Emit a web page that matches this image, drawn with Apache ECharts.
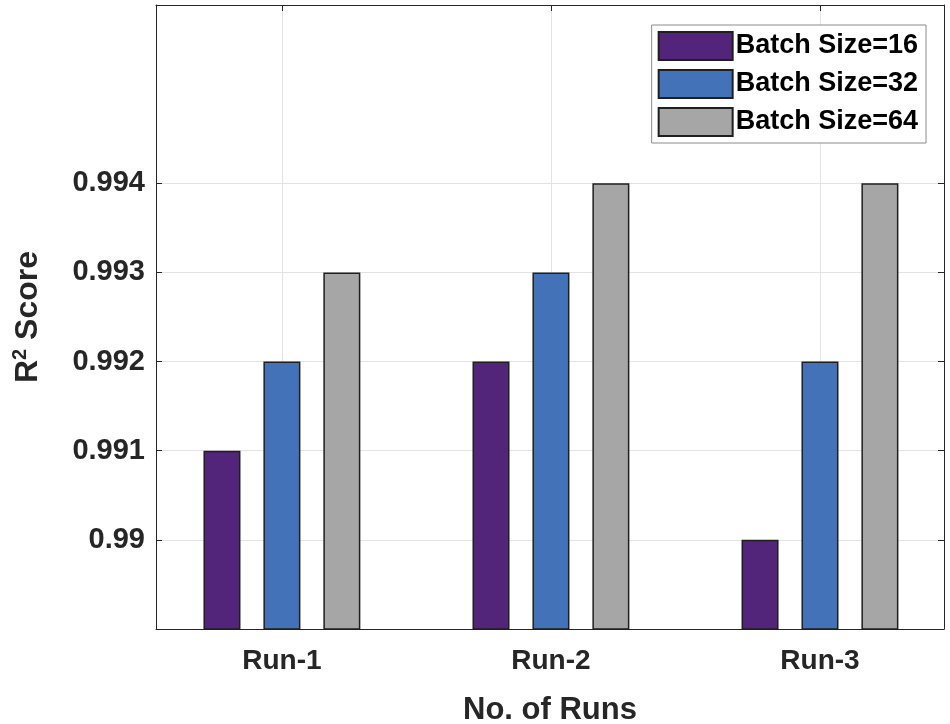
<!DOCTYPE html>
<html>
<head>
<meta charset="utf-8">
<script src="https://cdn.jsdelivr.net/npm/echarts@6/dist/echarts.min.js"></script>
<style>
html,body{margin:0;padding:0;background:#fff;}
#chart{width:950px;height:724px;}
</style>
</head>
<body>
<div id="chart"></div>
<script>
const categories = ['Run-1', 'Run-2', 'Run-3'];
const batch16 = [0.991, 0.992, 0.990];
const batch32 = [0.992, 0.993, 0.992];
const batch64 = [0.993, 0.994, 0.994];
const seriesNames = ['Batch Size=16', 'Batch Size=32', 'Batch Size=64'];
const yTicks = [0.990, 0.991, 0.992, 0.993, 0.994];
const xPositions = categories.map((c, i) => i + 1);

const FONT = '"Liberation Sans", Arial, Helvetica, sans-serif';
const colors = ['#52247A', '#4472B9', '#A6A6A6'];
const axisColor = '#262626';

const chart = echarts.init(document.getElementById('chart'));
const mkSeries = (name, data, i) => ({
  name: name,
  type: 'bar',
  data: data.map((v, k) => [xPositions[k], v]),
  barWidth: 37,
  barGap: '62%',
  itemStyle: { color: colors[i], borderColor: '#1f1f1f', borderWidth: 1.5 },
  emphasis: { disabled: true }
});
const xLabel = v => categories[Math.round(v) - 1] || '';

chart.setOption({
  animation: false,
  textStyle: { fontFamily: FONT },
  grid: { left: 156, right: 6, top: 5, bottom: 95, containLabel: false, outerBoundsMode: 'none' },
  legend: {
    orient: 'vertical',
    right: 24,
    top: 25,
    padding: [6, 8, 6, 6],
    icon: 'rect',
    itemWidth: 74,
    itemHeight: 28,
    itemGap: 8,
    backgroundColor: '#fff',
    borderColor: '#8a8a8a',
    borderWidth: 1,
    textStyle: { fontFamily: FONT, fontWeight: 'bold', fontSize: 27, color: '#000', padding: [0, 0, 0, -2] },
    data: seriesNames
  },
  xAxis: [{
    type: 'value',
    min: 0.532,
    max: 3.461,
    position: 'bottom',
    axisLine: { show: true, lineStyle: { color: axisColor, width: 1 } },
    axisTick: { show: true, inside: true, length: 6, customValues: xPositions, lineStyle: { color: axisColor } },
    axisLabel: { customValues: xPositions, formatter: xLabel, fontFamily: FONT, fontWeight: 'bold', fontSize: 28, color: '#262626', margin: 18 },
    splitLine: { show: true, lineStyle: { color: '#e3e3e3', width: 1 } },
    name: 'No. of Runs',
    nameLocation: 'middle',
    nameGap: 66,
    nameTextStyle: { fontFamily: FONT, fontWeight: 'bold', fontSize: 31, color: '#262626' }
  }, {
    type: 'value',
    min: 0.532,
    max: 3.461,
    position: 'top',
    axisLine: { show: true, lineStyle: { color: axisColor, width: 1 } },
    axisTick: { show: true, inside: true, length: 6, customValues: xPositions, lineStyle: { color: axisColor } },
    axisLabel: { show: false, customValues: xPositions },
    splitLine: { show: false }
  }],
  yAxis: [{
    type: 'value',
    min: 0.989,
    max: 0.996,
    position: 'left',
    axisLine: { show: true, lineStyle: { color: axisColor, width: 1 } },
    axisTick: { show: true, inside: true, length: 6, customValues: yTicks, lineStyle: { color: axisColor } },
    axisLabel: { customValues: yTicks, fontFamily: FONT, fontWeight: 'bold', fontSize: 29, color: '#262626', margin: 11 },
    splitLine: { show: true, lineStyle: { color: '#e3e3e3', width: 1 } },
    name: 'R{sup|2} Score',
    nameLocation: 'middle',
    nameGap: 110,
    nameTextStyle: {
      fontFamily: FONT, fontWeight: 'bold', fontSize: 32, color: '#262626',
      rich: { sup: { fontFamily: FONT, fontWeight: 'bold', fontSize: 20, color: '#262626', verticalAlign: 'top', padding: [0, 0, 16, 0] } }
    }
  }, {
    type: 'value',
    min: 0.989,
    max: 0.996,
    position: 'right',
    axisLine: { show: true, lineStyle: { color: axisColor, width: 1 } },
    axisTick: { show: true, inside: true, length: 6, customValues: yTicks, lineStyle: { color: axisColor } },
    axisLabel: { show: false, customValues: yTicks },
    splitLine: { show: false }
  }],
  series: [
    mkSeries(seriesNames[0], batch16, 0),
    mkSeries(seriesNames[1], batch32, 1),
    mkSeries(seriesNames[2], batch64, 2)
  ]
});
</script>
</body>
</html>
